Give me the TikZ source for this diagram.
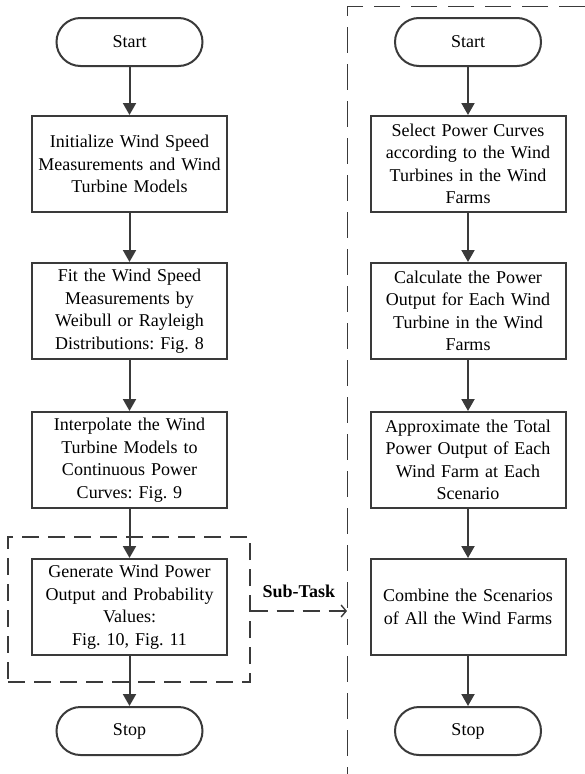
\documentclass[tikz,border=0pt]{standalone}
\usepackage{fontspec}
\setmainfont{Liberation Serif}
\usetikzlibrary{arrows.meta}
\definecolor{ln}{HTML}{3A3A3A}
\frenchspacing
\tikzset{
  base/.style={draw=ln, line width=2pt, font=\fontsize{18}{22.5}\selectfont, align=center},
  term/.style={base, minimum width=146pt, minimum height=48pt, rounded corners=24pt, inner sep=0pt},
  stepbox/.style={base, text width=185pt, inner xsep=5pt, inner ysep=0pt, minimum height=96pt},
  flow/.style={draw=ln, line width=2pt, -{Triangle[width=13pt,length=12pt]}},
  dashframe/.style={draw=ln, line width=1.4pt, dash pattern=on 17pt off 9pt},
  thinframe/.style={draw=ln, line width=1pt, dash pattern=on 26pt off 11pt},
}
\begin{document}
\begin{tikzpicture}[x=1pt,y=-1pt]
\useasboundingbox (0,0) rectangle (585,774);
% left column
\node[term] (s1) at (129.5,42) {Start};
\node[stepbox] (a1) at (129.5,164) {Initialize Wind Speed\\Measurements and Wind\\Turbine Models};
\node[stepbox] (a2) at (129.5,311) {Fit the Wind Speed\\Measurements by\\Weibull or Rayleigh\\Distributions: Fig.\ 8};
\node[stepbox] (a3) at (129.5,460) {Interpolate the Wind\\Turbine Models to\\Continuous Power\\Curves: Fig.\ 9};
\node[stepbox] (a4) at (129.5,607) {Generate Wind Power\\Output and Probability\\Values:\\Fig.\ 10, Fig.\ 11};
\node[term] (e1) at (129.5,731) {Stop};
\node[dashframe, minimum width=242pt, minimum height=145pt, inner sep=0pt] (frame) at (129,609.5) {};
% right column
\node[term] (s2) at (468,42) {Start};
\node[stepbox] (b1) at (468,164) {Select Power Curves\\according to the Wind\\Turbines in the Wind\\Farms};
\node[stepbox] (b2) at (468,311) {Calculate the Power\\Output for Each Wind\\Turbine in the Wind\\Farms};
\node[stepbox] (b3) at (468,460) {Approximate the Total\\Power Output of Each\\Wind Farm at Each\\Scenario};
\node[stepbox] (b4) at (468,607) {Combine the Scenarios\\of All the Wind Farms};
\node[term] (e2) at (468,731) {Stop};
% right dashed frame (partly outside)
\coordinate (rt) at (585,6);
\coordinate (rc) at (347,6);
\coordinate (rb) at (347,774);
\draw[thinframe] (rt) -- (rc) -- (rb);
% flows
\draw[flow] (s1) -- (a1);
\draw[flow] (a1) -- (a2);
\draw[flow] (a2) -- (a3);
\draw[flow] (a3) -- (a4);
\draw[flow] (a4) -- (e1);
\draw[flow] (s2) -- (b1);
\draw[flow] (b1) -- (b2);
\draw[flow] (b2) -- (b3);
\draw[flow] (b3) -- (b4);
\draw[flow] (b4) -- (e2);
% sub-task
\coordinate (st) at (347,611);
\draw[dashframe, -{Straight Barb[length=5pt,width=12pt]}] (frame.east |- st) -- (st)
  node[midway, above=9pt, font=\fontsize{18}{22.5}\selectfont\bfseries, text=black] (lbl) {Sub-Task};
\end{tikzpicture}
\end{document}
